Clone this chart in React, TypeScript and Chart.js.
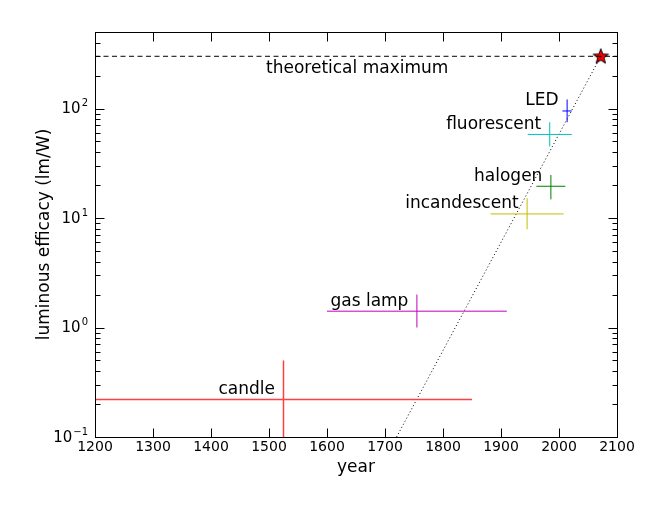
import React, { useEffect, useRef } from 'react';
import { Chart, registerables } from 'chart.js';

Chart.register(...registerables);

// lamp technologies
const lamps = ['candle', 'gas lamp', 'incandescent', 'halogen', 'fluorescent', 'LED'];
const lampColors = ['#ff4040', '#c000c0', '#c0c000', '#008000', '#00c0c0', '#0000ff'];
const lampWidths = [1.5, 1, 1, 1, 1, 1];
const years = [1525, 1755, 1945, 1986, 1984, 2014];
const yearErr = [325, 155, 63, 25, 38, 8];
const efficacy = [0.22, 1.41, 10.9, 19.5, 58, 95];
const efficacyLow = [0.1, 1.0, 7.9, 14.8, 45, 75];
const efficacyHigh = [0.5, 2.0, 15.2, 24.7, 75, 121];

const theoreticalMax = 300;
const starYear = 2072;
const trendYears = [1720, 2072];
const trendValues = [0.1, 300];

const xTicks = [1200, 1300, 1400, 1500, 1600, 1700, 1800, 1900, 2000, 2100];
const yDecades = [-1, 0, 1, 2];

const FONT = 'DejaVu Sans';

function makeStar(): HTMLCanvasElement {
  const c = document.createElement('canvas');
  c.width = 18;
  c.height = 18;
  const g = c.getContext('2d')!;
  g.beginPath();
  for (let i = 0; i < 10; i++) {
    const r = i % 2 === 0 ? 8 : 3.3;
    const a = -Math.PI / 2 + (i * Math.PI) / 5;
    const px = 9 + r * Math.cos(a);
    const py = 9.5 + r * Math.sin(a);
    if (i === 0) g.moveTo(px, py);
    else g.lineTo(px, py);
  }
  g.closePath();
  g.fillStyle = '#ff0000';
  g.fill();
  g.strokeStyle = '#000';
  g.lineWidth = 1;
  g.stroke();
  return c;
}

// frame, inward ticks, tick labels and axis titles
const axesPlugin = {
  id: 'mplAxes',
  afterDraw(chart: any) {
    const { ctx, chartArea: a, scales } = chart;
    const xs = scales.x;
    const ys = scales.y;
    const L = Math.round(a.left) + 0.5;
    const R = Math.round(a.right) + 0.5;
    const T = Math.round(a.top) + 0.5;
    const B = Math.round(a.bottom) + 0.5;
    ctx.save();
    ctx.strokeStyle = '#000';
    ctx.lineWidth = 1;
    ctx.strokeRect(L, T, R - L, B - T);

    ctx.beginPath();
    xTicks.forEach(t => {
      const px = Math.round(xs.getPixelForValue(t)) + 0.5;
      ctx.moveTo(px, B);
      ctx.lineTo(px, B - 9);
      ctx.moveTo(px, T);
      ctx.lineTo(px, T + 9);
    });
    yDecades.forEach(d => {
      for (let m = 1; m <= 9; m++) {
        const v = m * Math.pow(10, d);
        if (v > ys.max) break;
        const py = Math.round(ys.getPixelForValue(v)) + 0.5;
        const len = m === 1 ? 9 : 5;
        ctx.moveTo(L, py);
        ctx.lineTo(L + len, py);
        ctx.moveTo(R, py);
        ctx.lineTo(R - len, py);
      }
    });
    ctx.stroke();

    ctx.fillStyle = '#000';
    ctx.font = `14px "${FONT}"`;
    ctx.textAlign = 'center';
    ctx.textBaseline = 'middle';
    xTicks.forEach(t => {
      ctx.fillText(String(t), xs.getPixelForValue(t), a.bottom + 10);
    });

    yDecades.forEach(d => {
      const py = ys.getPixelForValue(Math.pow(10, d));
      const exp = String(d).replace('-', '\u2212');
      ctx.font = `10px "${FONT}"`;
      const ew = ctx.measureText(exp).width;
      ctx.textAlign = 'left';
      ctx.textBaseline = 'middle';
      ctx.fillText(exp, a.left - 7 - ew, py - 5);
      ctx.font = `15px "${FONT}"`;
      ctx.textAlign = 'right';
      ctx.fillText('10', a.left - 8 - ew, py + 1);
    });

    ctx.font = `17px "${FONT}"`;
    ctx.textAlign = 'center';
    ctx.textBaseline = 'middle';
    ctx.fillText('year', (a.left + a.right) / 2, a.bottom + 31);
    ctx.translate(45, (a.top + a.bottom) / 2);
    ctx.rotate(-Math.PI / 2);
    ctx.fillText('luminous efficacy (lm/W)', 0, 0);
    ctx.restore();
  },
};

// text annotations next to each lamp
const labelPlugin = {
  id: 'lampLabels',
  afterDatasetsDraw(chart: any) {
    const { ctx, scales } = chart;
    const xs = scales.x;
    const ys = scales.y;
    ctx.save();
    ctx.fillStyle = '#000';
    ctx.font = `17px "${FONT}"`;
    ctx.textAlign = 'right';
    ctx.textBaseline = 'alphabetic';
    lamps.forEach((name, i) => {
      const px = xs.getPixelForValue(years[i]);
      const py = ys.getPixelForValue(efficacy[i]);
      ctx.fillText(name, px - 8.5, py - 5.5);
    });
    ctx.textAlign = 'center';
    ctx.fillText('theoretical maximum', xs.getPixelForValue(1652), ys.getPixelForValue(theoreticalMax) + 17);
    ctx.restore();
  },
};

const App: React.FC = () => {
  const chartRef = useRef<HTMLCanvasElement>(null);
  const chartInstance = useRef<Chart | null>(null);

  useEffect(() => {
    if (!chartRef.current) return;
    if (chartInstance.current) chartInstance.current.destroy();
    const ctx = chartRef.current.getContext('2d');
    if (!ctx) return;

    const lineBase = { type: 'line' as const, pointRadius: 0, fill: false, tension: 0 };
    const datasets: any[] = [];
    lamps.forEach((name, i) => {
      datasets.push({
        ...lineBase,
        label: name + ' span',
        borderColor: lampColors[i],
        borderWidth: lampWidths[i],
        data: [
          { x: years[i] - yearErr[i], y: efficacy[i] },
          { x: years[i] + yearErr[i], y: efficacy[i] },
        ],
      });
      datasets.push({
        ...lineBase,
        label: name + ' range',
        borderColor: lampColors[i],
        borderWidth: lampWidths[i],
        data: [
          { x: years[i], y: efficacyLow[i] },
          { x: years[i], y: efficacyHigh[i] },
        ],
      });
    });
    datasets.push({
      ...lineBase,
      label: 'theoretical maximum',
      borderColor: '#000',
      borderWidth: 1,
      borderDash: [5, 3.5],
      data: [
        { x: xTicks[0], y: theoreticalMax },
        { x: xTicks[xTicks.length - 1], y: theoreticalMax },
      ],
    });
    datasets.push({
      ...lineBase,
      label: 'trend',
      borderColor: '#000',
      borderWidth: 1,
      borderDash: [1, 2.5],
      data: trendYears.map((x, i) => ({ x, y: trendValues[i] })),
    });
    datasets.push({
      type: 'scatter',
      label: 'limit',
      pointStyle: makeStar(),
      pointRadius: 9,
      data: [{ x: starYear, y: theoreticalMax }],
      clip: false,
    });

    chartInstance.current = new Chart(ctx, {
      type: 'line',
      data: { datasets },
      options: {
        animation: false,
        responsive: true,
        maintainAspectRatio: false,
        layout: { padding: { left: 95, right: 46, top: 32, bottom: 68 } },
        plugins: { legend: { display: false }, tooltip: { enabled: false }, colors: { enabled: false } },
        scales: {
          x: { type: 'linear', min: 1200, max: 2100, display: false },
          y: { type: 'logarithmic', min: 0.1, max: 500, display: false },
        },
      },
      plugins: [axesPlugin, labelPlugin],
    });

    return () => {
      if (chartInstance.current) {
        chartInstance.current.destroy();
        chartInstance.current = null;
      }
    };
  }, []);

  return (
    <div style={{ position: 'absolute', left: 0, top: 0, width: '663px', height: '505px', background: '#fff' }}>
      <canvas ref={chartRef}></canvas>
    </div>
  );
};

export default App;
